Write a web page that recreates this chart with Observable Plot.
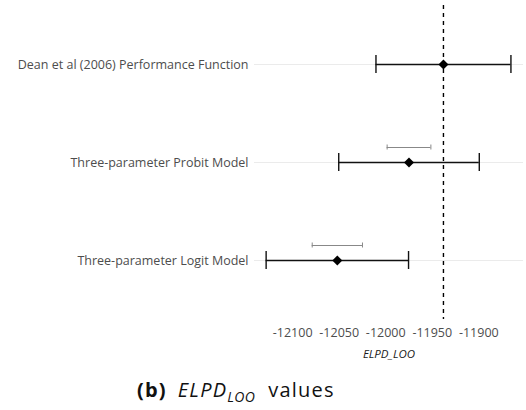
<!DOCTYPE html>
<html>
<head>
<meta charset="utf-8">
<script src="https://cdn.jsdelivr.net/npm/d3@7"></script>
<script src="https://cdn.jsdelivr.net/npm/@observablehq/plot@0.6"></script>
<style>
  body { margin: 0; background: #fff; font-family: "Open Sans", sans-serif; }
  #wrap { position: relative; width: 526px; height: 410px; }
  #chart svg { display: block; }
  [aria-label="x-axis label"] text { font-style: italic; fill: #1a1a1a; }
  #caption { position: absolute; left: 137px; top: 378px; font-size: 20px; letter-spacing: 1.2px; color: #111; white-space: nowrap; line-height: 1.2; }
  #caption b { margin-right: 11px; }
  #caption i { margin-right: 13px; }
  #caption sub { font-size: 14px; letter-spacing: 0.4px; }
</style>
</head>
<body>
<div id="wrap">
  <div id="chart"></div>
  <div id="caption"><b>(b)</b><i>ELPD<sub>LOO</sub></i>values</div>
</div>
<script>
// Models compared by leave-one-out expected log predictive density
const models = [
  "Dean et al (2006) Performance Function",
  "Three-parameter Probit Model",
  "Three-parameter Logit Model"
];
const elpd = [-11938, -11975, -12052];
// half-width of the interval around each estimate
const ciHalf = [72.5, 75.5, 76.5];
// half-width of the interval on the difference from the best model (none for the best)
const diffHalf = [null, 23.5, 27];
const xTicks = [-12100, -12050, -12000, -11950, -11900];

const rows = models.map((m, i) => ({
  model: m,
  elpd: elpd[i],
  lo: elpd[i] - ciHalf[i],
  hi: elpd[i] + ciHalf[i],
  dlo: diffHalf[i] == null ? null : elpd[i] - diffHalf[i],
  dhi: diffHalf[i] == null ? null : elpd[i] + diffHalf[i]
}));
const diffRows = rows.filter(d => d.dlo != null);
const best = d3.max(elpd);

const chart = Plot.plot({
  width: 526,
  height: 365,
  marginTop: 5,
  marginBottom: 46,
  marginLeft: 254,
  marginRight: 3,
  style: { fontFamily: "Open Sans, sans-serif", fontSize: "12.5px", color: "#4d4d4d" },
  x: { domain: [-12141, -11852] },
  y: { type: "band", domain: models, paddingInner: 0.817, paddingOuter: 0.5085 },
  marks: [
    Plot.gridY({ stroke: "#ebebeb", strokeOpacity: 1, strokeWidth: 1 }),
    Plot.axisY({ tickSize: 0, tickPadding: 6, label: null, fill: "#4d4d4d", fontSize: 12.5 }),
    Plot.axisX({
      ticks: xTicks,
      tickFormat: d => `${d}`,
      tickSize: 0,
      tickPadding: 9,
      label: "ELPD_LOO",
      labelAnchor: "center",
      labelArrow: "none",
      labelOffset: 38,
      fill: "#4d4d4d",
      fontSize: 12.5
    }),
    Plot.ruleX([best], { stroke: "#000", strokeWidth: 1.4, strokeDasharray: "4,4" }),
    // interval on the difference from the best model
    Plot.ruleY(diffRows, { y: "model", x1: "dlo", x2: "dhi", dy: -15, stroke: "#888", strokeWidth: 1 }),
    Plot.tickX(diffRows, { y: "model", x: "dlo", dy: -15, insetTop: 6.5, insetBottom: 6.5, stroke: "#888", strokeWidth: 1 }),
    Plot.tickX(diffRows, { y: "model", x: "dhi", dy: -15, insetTop: 6.5, insetBottom: 6.5, stroke: "#888", strokeWidth: 1 }),
    // estimate interval
    Plot.ruleY(rows, { y: "model", x1: "lo", x2: "hi", stroke: "#111", strokeWidth: 1.4 }),
    Plot.tickX(rows, { y: "model", x: "lo", stroke: "#111", strokeWidth: 1.4 }),
    Plot.tickX(rows, { y: "model", x: "hi", stroke: "#111", strokeWidth: 1.4 }),
    Plot.dot(rows, { y: "model", x: "elpd", symbol: "diamond2", r: 4.5, fill: "#000", stroke: "none" })
  ]
});
document.getElementById("chart").appendChild(chart);
// the axis title is smaller than the tick labels
chart.querySelectorAll('[aria-label="x-axis label"] text').forEach(t => t.setAttribute("font-size", "11.5"));
</script>
</body>
</html>
